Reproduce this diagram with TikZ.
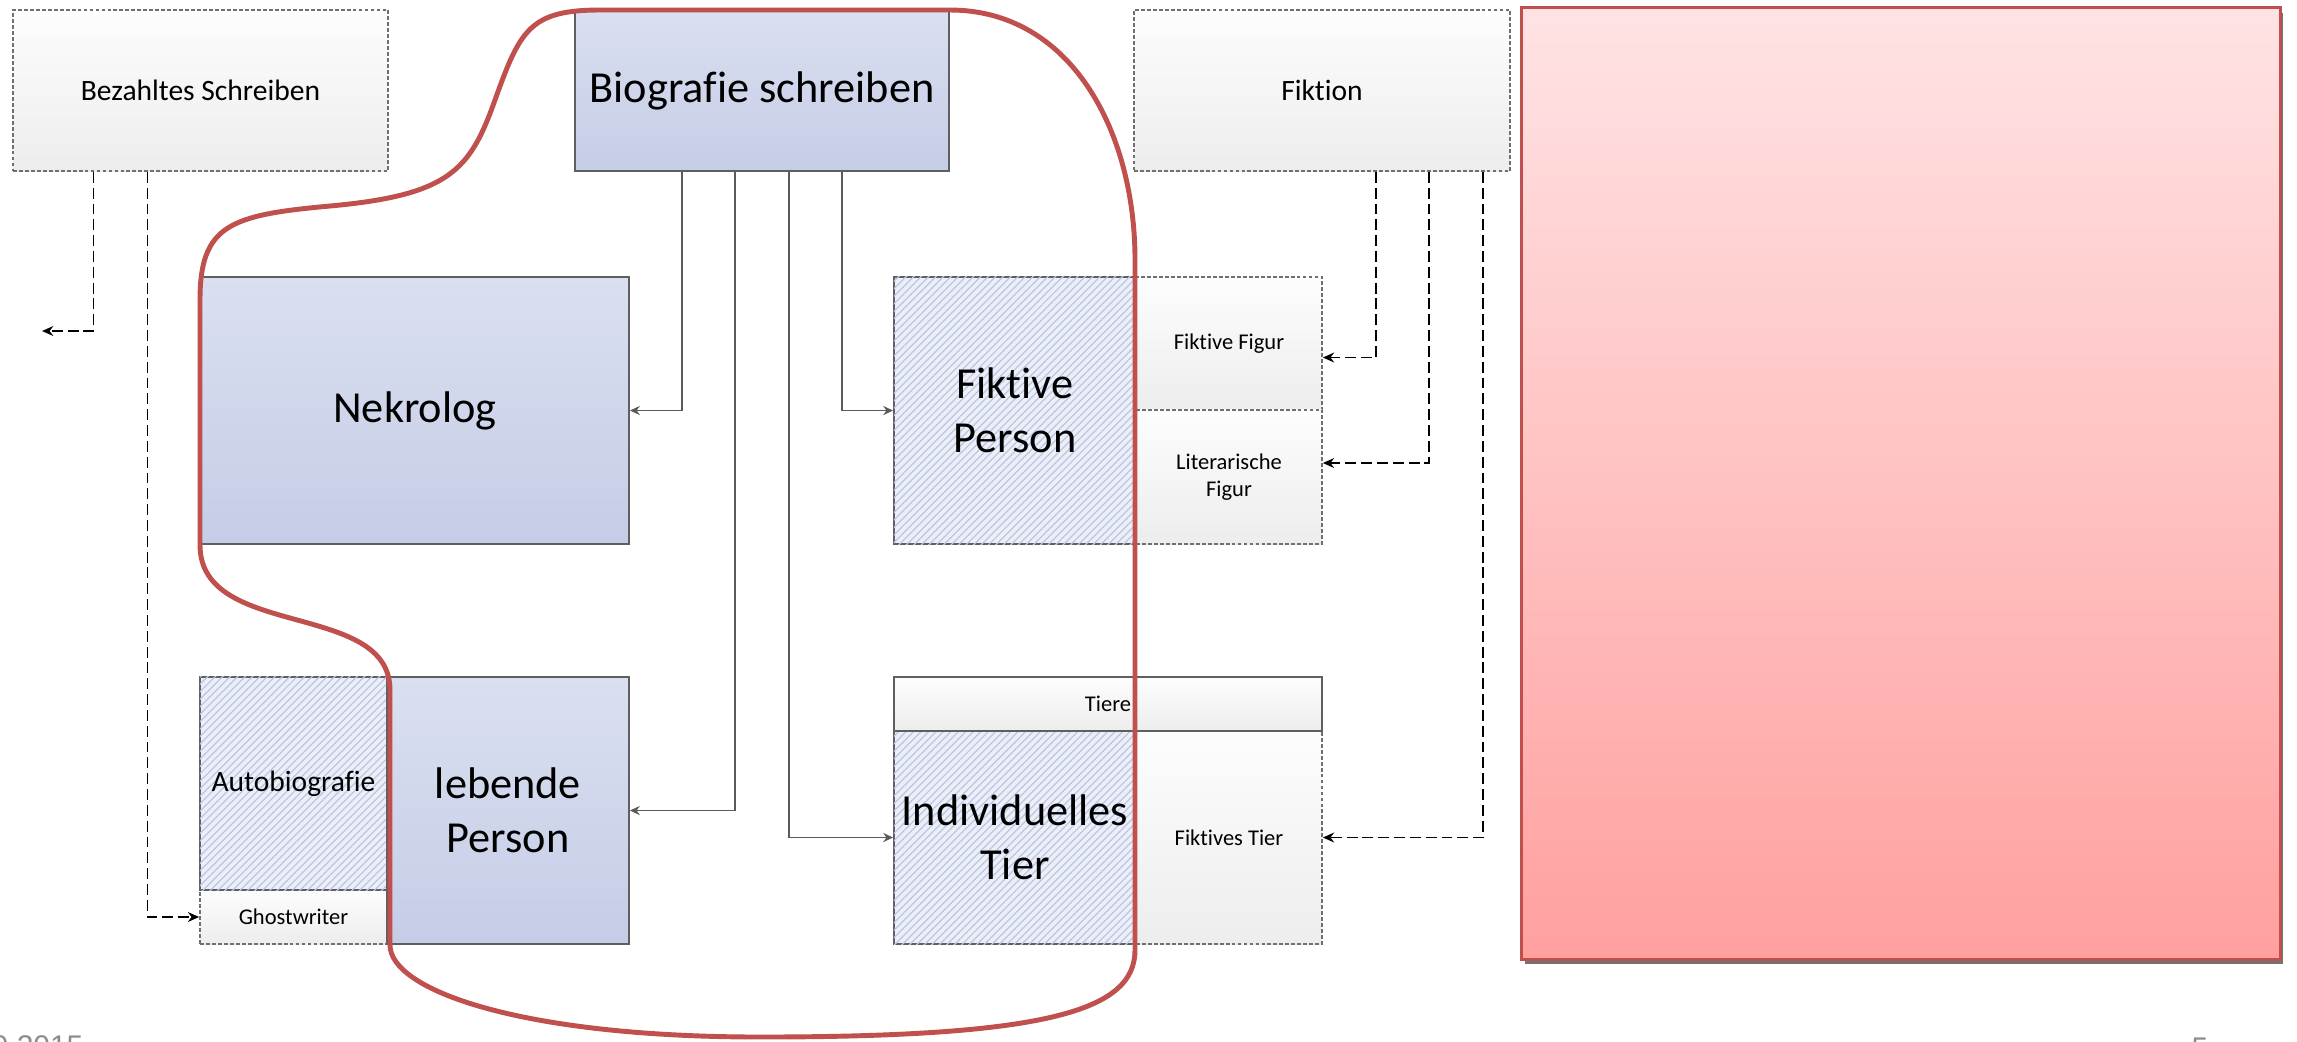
\documentclass[tikz,border=0pt]{standalone}
\usepackage{fontspec}
\setmainfont{Carlito}[Ligatures=CommonOff]
\newfontfamily\footfont{Liberation Sans}
\usetikzlibrary{arrows.meta,patterns.meta,shadows}

\definecolor{bluetop}{HTML}{DAE0F0}
\definecolor{bluebot}{HTML}{C5CDE7}
\definecolor{hatchbg}{HTML}{ECEFF8}
\definecolor{hatchln}{HTML}{BCC5E2}
\definecolor{greytop}{HTML}{FDFDFD}
\definecolor{greybot}{HTML}{EDEDED}
\definecolor{boxline}{HTML}{5F5F5F}
\definecolor{dashgrey}{HTML}{6F6F6F}
\definecolor{connline}{HTML}{5A5A5A}
\definecolor{blobred}{HTML}{C0504D}
\definecolor{pinktop}{HTML}{FFE3E4}
\definecolor{pinkbot}{HTML}{FFA09F}
\definecolor{footgrey}{HTML}{8C8C8C}

\begin{document}
\begin{tikzpicture}[x=0.01cm, y=-0.01cm,
    bluebox/.style={draw=boxline, line width=0.5pt, top color=bluetop, bottom color=bluebot,
        inner sep=0pt, align=center, font=\fontsize{12.6}{15.4}\selectfont},
    hatchbox/.style={draw=boxline, line width=0.5pt, fill=hatchbg,
        postaction={pattern={Lines[angle=45,distance=1.5pt,line width=0.35pt]}, pattern color=hatchln},
        inner sep=0pt, align=center, font=\fontsize{12.6}{15.4}\selectfont},
    greybox/.style={draw=dashgrey, line width=0.45pt, dash pattern=on 1.1pt off 0.6pt,
        top color=greytop, bottom color=greybot, inner sep=0pt, align=center,
        font=\fontsize{8.4}{10}\selectfont},
    sublabel/.style={font=\fontsize{6.4}{7.6}\selectfont},
    conn/.style={draw=connline, line width=0.5pt, -{Stealth[length=2.8pt,width=2.6pt]}},
    dconn/.style={draw=black, line width=0.5pt, dash pattern=on 3.1pt off 1.4pt,
        -{Stealth[length=3.2pt,width=2.8pt]}},
    blob/.style={draw=blobred, line width=1.4pt, line join=round}
]
    \useasboundingbox (0,0) rectangle (2297,1041);
    \clip (0,0) rectangle (2297,1041);
    \fill[white] (0,0) rectangle (2297,1041);

    % the top row
    \node[greybox, minimum width=3.75cm, minimum height=1.61cm] (bez) at (200.5,90.5) {Bezahltes Schreiben};
    \node[bluebox, minimum width=3.74cm, minimum height=1.61cm] (bio) at (762,90.5) {Biografie schreiben};
    \node[greybox, minimum width=3.76cm, minimum height=1.61cm] (fik) at (1322,90.5) {Fiktion};

    % left column
    \node[bluebox, minimum width=4.28cm, minimum height=2.67cm] (nek) at (415,410.5) {Nekrolog};
    \node[greybox, sublabel, minimum width=1.87cm, minimum height=0.54cm] (ghost) at (293.5,917) {Ghostwriter};
    \node[hatchbox, font=\fontsize{8.4}{10}\selectfont, minimum width=1.87cm, minimum height=2.13cm] (autobio) at (293.5,783.5) {Autobiografie};
    \node[bluebox, minimum width=2.42cm, minimum height=2.67cm] (lebende) at (508,810.5) {lebende\\Person};

    % right column
    \node[hatchbox, minimum width=2.42cm, minimum height=2.67cm] (fperson) at (1015,410.5) {Fiktive\\Person};
    \node[greybox, sublabel, minimum width=1.86cm, minimum height=1.33cm] (ffigur) at (1229,343.5) {Fiktive Figur};
    \node[greybox, sublabel, minimum width=1.86cm, minimum height=1.34cm] (litfigur) at (1229,477) {Literarische\\Figur};
    \node[hatchbox, minimum width=2.42cm, minimum height=2.13cm] (indtier) at (1015,837.5) {Individuelles\\Tier};
    \node[greybox, sublabel, minimum width=1.86cm, minimum height=2.13cm] (fiktier) at (1229,837.5) {Fiktives Tier};
    \node[greybox, sublabel, draw=boxline, solid, line width=0.5pt, minimum width=4.28cm, minimum height=0.54cm] (tiere) at (1108,704) {Tiere};

    % the empty red panel
    \node[draw=blobred, line width=0.8pt, top color=pinktop, bottom color=pinkbot,
        drop shadow={shadow xshift=0.8pt, shadow yshift=-1.4pt, fill=black, opacity=0.55},
        minimum width=7.58cm, minimum height=9.51cm] (panel) at (1901,483.5) {};

    % arrows from Biografie schreiben
    \draw[conn] ([xshift=-0.8cm]bio.south) |- (nek.east);
    \draw[conn] ([xshift=-0.27cm]bio.south) |- (lebende.east);
    \draw[conn] ([xshift=0.27cm]bio.south) |- (indtier.west);
    \draw[conn] ([xshift=0.8cm]bio.south) |- (fperson.west);

    % dashed arrows from Bezahltes Schreiben and Fiktion
    \coordinate (bezout) at (42,331);
    \draw[dconn] ([xshift=-1.07cm]bez.south) |- (bezout);
    \draw[dconn] ([xshift=-0.53cm]bez.south) |- (ghost.west);
    \draw[dconn] ([xshift=0.54cm]fik.south) |- ([yshift=-0.14cm]ffigur.east);
    \draw[dconn] ([xshift=1.07cm]fik.south) |- ([yshift=0.14cm]litfigur.east);
    \draw[dconn] ([xshift=1.61cm]fik.south) |- (fiktier.east);

    % the red outline round the biography part
    \draw[blob] (600,10) -- (950,10) .. controls (1070,10) and (1135,130) .. (1135,260)
        -- (1135,950) .. controls (1135,1010) and (1050,1037) .. (760,1037)
        .. controls (520,1037) and (390,990) .. (390,945)
        -- (390,690) .. controls (390,600) and (200,640) .. (200,545)
        -- (200,300) .. controls (200,225) and (230,215) .. (330,206)
        .. controls (450,195) and (470,170) .. (495,100)
        .. controls (520,30) and (530,10) .. (600,10) -- cycle;

    % footer
    \node[anchor=north east, inner sep=0pt, text=footgrey, font=\footfont\fontsize{8.5}{10}\selectfont] (date) at (84,1035) {9.2015};
    \node[anchor=north west, inner sep=0pt, text=footgrey, font=\footfont\fontsize{8.5}{10}\selectfont] (pagenum) at (2191,1037) {5};
\end{tikzpicture}
\end{document}
